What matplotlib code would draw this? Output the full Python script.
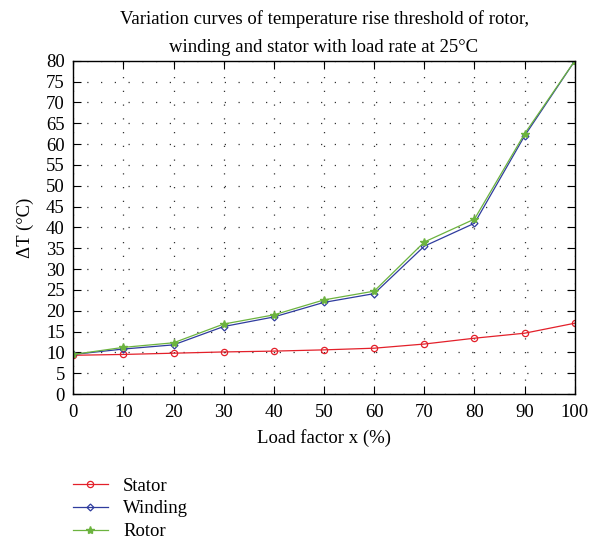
import matplotlib
matplotlib.use('Agg')
import matplotlib.pyplot as plt

plt.rcParams['font.family'] = ['Liberation Serif', 'DejaVu Serif']

# Data
load = [0, 10, 20, 30, 40, 50, 60, 70, 80, 90, 100]
stator = [9.3, 9.5, 9.8, 10.1, 10.3, 10.6, 11.0, 12.0, 13.4, 14.6, 17.0]
winding = [9.5, 10.8, 11.8, 16.2, 18.5, 22.0, 24.1, 35.5, 41.0, 62.0, 80.0]
rotor = [9.5, 11.2, 12.3, 16.8, 19.0, 22.6, 24.7, 36.5, 42.0, 62.5, 80.0]

fig = plt.figure(figsize=(6, 5.48), dpi=100)
ax = fig.add_axes([0.122, 0.281, 0.836, 0.608])

ax.plot(load, stator, color='#e3202a', lw=0.9, marker='o', ms=4.5,
        mfc='none', mec='#e3202a', mew=0.9, label='Stator')
ax.plot(load, winding, color='#2f3c9e', lw=0.9, marker='D', ms=3.5,
        mfc='none', mec='#2f3c9e', mew=0.9, label='Winding')
ax.plot(load, rotor, color='#6cb33f', lw=0.9, marker='*', ms=6,
        mfc='#6cb33f', mec='#6cb33f', label='Rotor')

ax.set_xlim(0, 100)
ax.set_ylim(0, 80)
ax.set_xticks(range(0, 101, 10))
ax.set_yticks(range(0, 81, 5))
ax.tick_params(direction='in', top=True, right=True, labelsize=13.5, length=6)
ax.tick_params(axis='x', pad=7)
ax.tick_params(axis='y', pad=6)
ax.grid(True, linestyle=(0, (1, 10)), color='#333333', lw=0.9)
for s in ax.spines.values():
    s.set_linewidth(1.0)

ax.set_xlabel('Load factor x (%)', fontsize=13.5, labelpad=6)
ax.set_ylabel('ΔT (°C)', fontsize=13.5, labelpad=9)
ax.set_title('Variation curves of temperature rise threshold of rotor,\n'
             'winding and stator with load rate at 25°C', fontsize=13.5,
             pad=6, linespacing=1.85)

ax.legend(loc='upper left', bbox_to_anchor=(-0.035, -0.2), frameon=False,
          fontsize=13.5, handlelength=1.9, labelspacing=0.3, handletextpad=0.8)

fig.savefig('out.png', dpi=100)
plt.close(fig)
